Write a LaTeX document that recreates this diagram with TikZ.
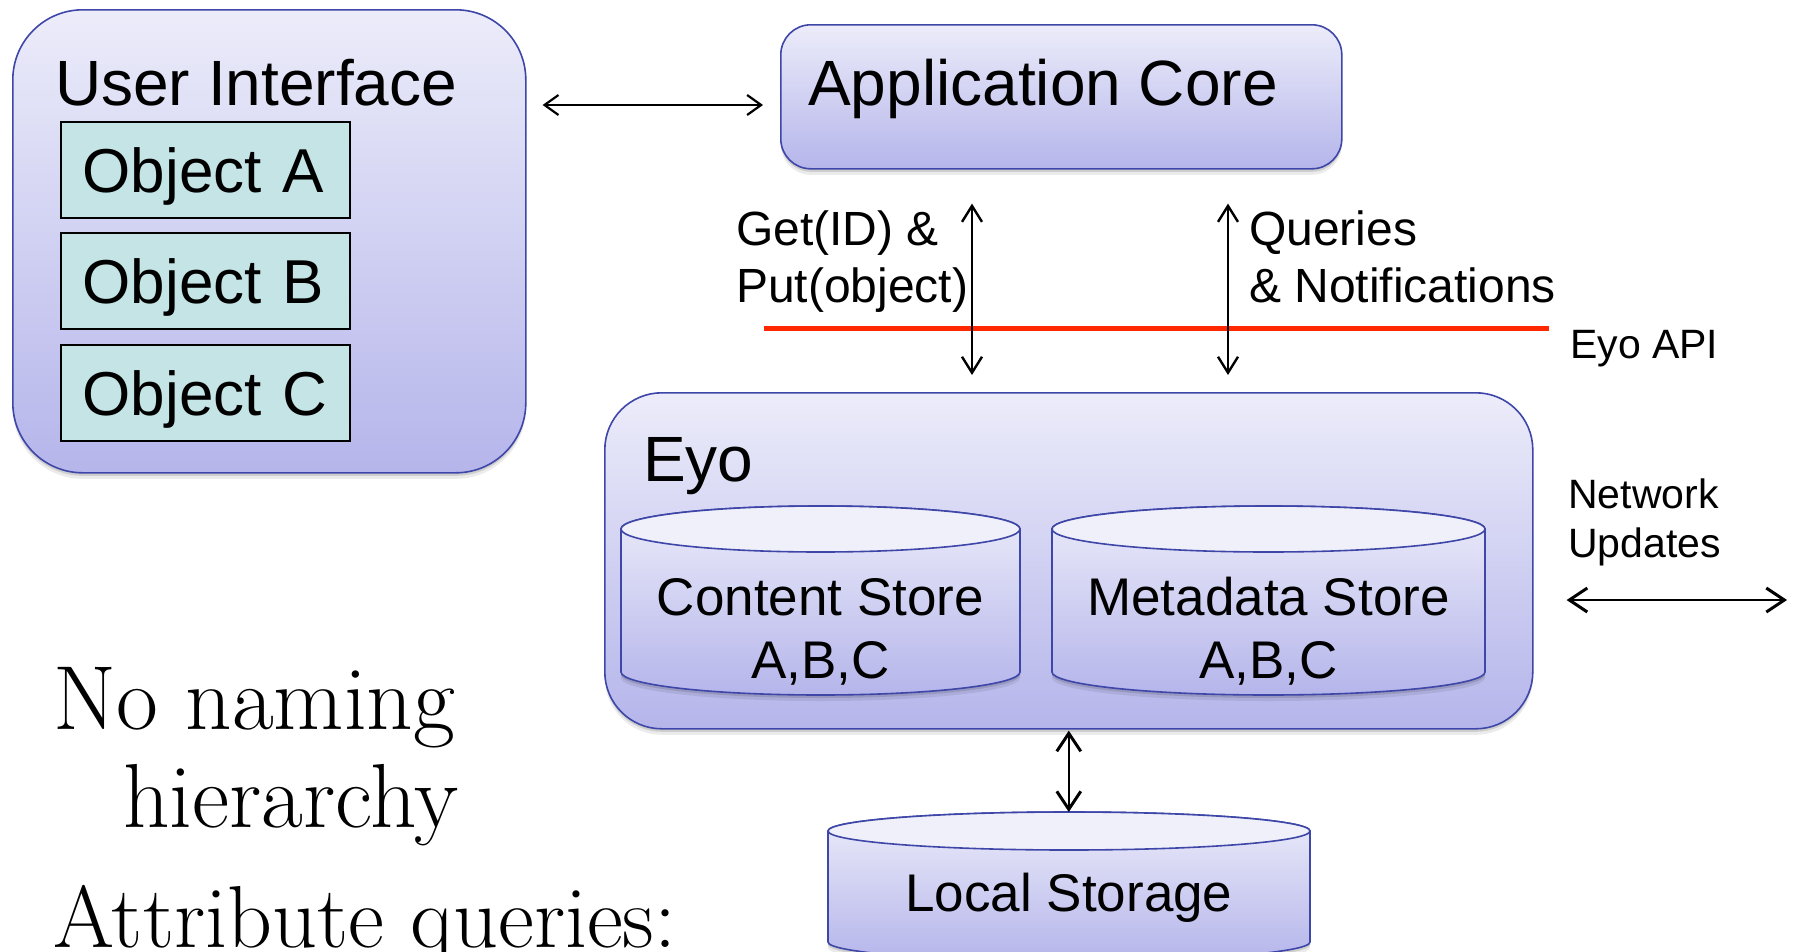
\documentclass[tikz,border=0pt]{standalone}
\usepackage{fontspec}
\newfontfamily\arial{Liberation Sans}
\usetikzlibrary{arrows.meta}

\definecolor{boxtop}{RGB}{236,236,250}
\definecolor{boxbot}{RGB}{181,181,235}
\definecolor{boxedge}{RGB}{62,70,168}
\definecolor{objfill}{RGB}{196,228,230}
\definecolor{apired}{RGB}{255,40,0}
\definecolor{cyltop}{RGB}{240,240,251}

\tikzset{
  softshadow/.style={
    preaction={fill=black,fill opacity=.08,transform canvas={yshift=-6pt}},
    preaction={fill=black,fill opacity=.12,transform canvas={yshift=-3pt}}},
  panel/.style={draw=boxedge,line width=1.6pt,top color=boxtop,bottom color=boxbot,
    softshadow,anchor=north west,inner sep=0pt},
  objbox/.style={draw=black,line width=1.5pt,fill=objfill,anchor=north west,
    minimum width=289pt,minimum height=96pt,text width=245pt,inner xsep=22pt,
    inner ysep=0pt,text height=46pt,text depth=0pt,align=left,
    font=\arial\fontsize{62}{74}\selectfont},
  bigtxt/.style={anchor=base west,inner sep=0pt,font=\arial\fontsize{64}{77}\selectfont},
  midtxt/.style={anchor=base,inner sep=0pt,font=\arial\fontsize{53}{64}\selectfont},
  apitxt/.style={anchor=base west,inner sep=0pt,font=\arial\fontsize{48}{58}\selectfont},
  smalltxt/.style={anchor=base west,inner sep=0pt,font=\arial\fontsize{41}{49}\selectfont},
  notetxt/.style={anchor=base west,inner sep=0pt,font=\rmfamily\fontsize{91}{108}\selectfont},
  cylbody/.style={draw=boxedge,line width=1.6pt,top color=boxtop,bottom color=boxbot,softshadow},
  cyllid/.style={draw=boxedge,line width=1.6pt,fill=cyltop},
  spot/.style={inner sep=0pt,anchor=north west},
  thinarrow/.style={line width=1.5pt,
    {Straight Barb[length=14pt,width=20pt,line width=2.2pt]}-{Straight Barb[length=14pt,width=20pt,line width=2.2pt]}},
  apiarrow/.style={line width=1.5pt,
    {Straight Barb[length=16pt,width=20pt,line width=2.4pt]}-{Straight Barb[length=16pt,width=20pt,line width=2.4pt]}},
  boldarrow/.style={line width=2.2pt,
    {Straight Barb[length=18pt,width=24pt,line width=3pt]}-{Straight Barb[length=18pt,width=24pt,line width=3pt]}}
}

% vertical storage cylinder: left, right, top, bottom, lid half-height
\newcommand\storecyl[5]{%
  \pgfmathsetmacro\cxl{#1}%
  \pgfmathsetmacro\cxr{#2}%
  \pgfmathsetmacro\cxm{(#1+#2)/2}%
  \pgfmathsetmacro\crx{(#2-#1)/2}%
  \pgfmathsetmacro\ckx{0.5523*(#2-#1)/2}%
  \pgfmathsetmacro\cky{0.5523*#5}%
  \pgfmathsetmacro\cyt{#3}%
  \pgfmathsetmacro\cyb{#4}%
  \pgfmathsetmacro\cyu{#3+#5}%
  \pgfmathsetmacro\cyd{#4-#5}%
  \path[cylbody] (\cxl,\cyu) -- (\cxl,\cyd)
     .. controls (\cxl,\cyd+\cky) and (\cxm-\ckx,\cyb) .. (\cxm,\cyb)
     .. controls (\cxm+\ckx,\cyb) and (\cxr,\cyd+\cky) .. (\cxr,\cyd)
     -- (\cxr,\cyu)
     .. controls (\cxr,\cyu-\cky) and (\cxm+\ckx,\cyt) .. (\cxm,\cyt)
     .. controls (\cxm-\ckx,\cyt) and (\cxl,\cyu-\cky) .. cycle;
  \path[cyllid] (\cxm,\cyu) ellipse [x radius=\crx pt, y radius=#5 pt];
}

\begin{document}
\begin{tikzpicture}[x=1pt,y=-1pt]
\useasboundingbox (0,0) rectangle (1797,951);
\clip (0,0) rectangle (1797,951);

% user interface panel
\node[panel,rounded corners=70pt,minimum width=513pt,minimum height=463pt] (ui) at (12,9) {};
\node[bigtxt] (uilabel) at (55,105) {User Interface};
\node[objbox] (obja) at (60,121) {Object A};
\node[objbox] (objb) at (60,232) {Object B};
\node[objbox] (objc) at (60,344) {Object C};

% application core
\node[panel,rounded corners=30pt,minimum width=561pt,minimum height=144pt] (core) at (780,24) {};
\node[bigtxt] (corelabel) at (808,105) {Application Core};

% Eyo panel with its two stores
\node[panel,rounded corners=57pt,minimum width=928pt,minimum height=336pt] (eyo) at (604,392) {};
\node[bigtxt] (eyolabel) at (643,481) {Eyo};

\storecyl{621}{1020}{506}{695}{23}
\node[spot,minimum width=399pt,minimum height=189pt] (cstore) at (621,506) {};
\node[midtxt] (cstorel1) at (820.5,615) {Content Store};
\node[midtxt] (cstorel2) at (820.5,678) {A,B,C};

\storecyl{1052}{1485}{506}{695}{23}
\node[spot,minimum width=433pt,minimum height=189pt] (mstore) at (1052,506) {};
\node[midtxt] (mstorel1) at (1268.5,615) {Metadata Store};
\node[midtxt] (mstorel2) at (1268.5,678) {A,B,C};

% local storage
\storecyl{828}{1310}{812}{961}{19}
\node[spot,minimum width=482pt,minimum height=149pt] (lstore) at (828,812) {};
\node[midtxt] (lstorel) at (1069,911) {Local Storage};

% API boundary
\coordinate (apiL) at (764,328);
\coordinate (apiR) at (1549,328);
\draw[apired,line width=5pt] (apiL) -- (apiR);
\node[smalltxt] (apilabel) at (1570,358) {Eyo API};

% connectors
\draw[thinarrow,shorten <=16pt,shorten >=17pt] (ui.east |- 0,105) -- (core.west |- 0,105);
\draw[apiarrow,shorten <=34pt,shorten >=17pt] (core.south -| 972,0) -- (eyo.north -| 972,0);
\draw[apiarrow,shorten <=34pt,shorten >=17pt] (core.south -| 1228,0) -- (eyo.north -| 1228,0);
\draw[boldarrow,shorten <=1pt] (eyo.south) -- (eyo.south |- lstore.north);
\coordinate (netR) at (1787,600);
\draw[boldarrow,shorten <=33pt] (eyo.east |- 0,600) -- (netR);

% connector labels
\node[apitxt] (getl) at (736,245) {Get(ID) \&};
\node[apitxt] (putl) at (736,302) {Put(object)};
\node[apitxt] (qryl) at (1249,245) {Queries};
\node[apitxt] (notl) at (1249,302) {\& Notifications};
\node[smalltxt] (netl1) at (1568,508) {Network};
\node[smalltxt] (netl2) at (1568,557) {Updates};

% notes
\node[notetxt] (note1) at (53,729) {No naming};
\node[notetxt] (note2) at (123,827) {hierarchy};
\node[notetxt,font=\rmfamily\fontsize{88}{105}\selectfont] (note3) at (53,947) {Attribute queries:};
\end{tikzpicture}
\end{document}
